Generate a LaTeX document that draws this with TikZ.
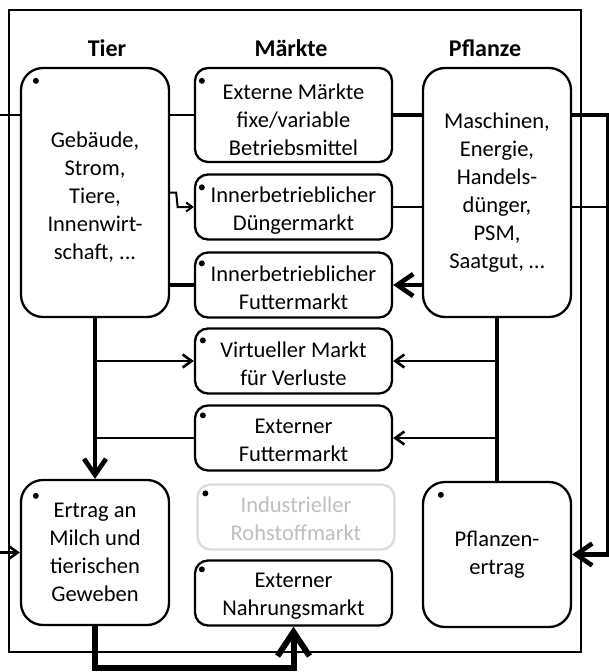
\documentclass[tikz,border=0pt]{standalone}
\usepackage{fontspec}
\setmainfont{Carlito}
\usetikzlibrary{arrows.meta}
\newcommand{\boxfont}{\fontsize{22.5}{28}\selectfont}
\newcommand{\hdrfont}{\fontsize{24}{28}\selectfont\bfseries}
\newcommand{\tup}[1]{\rule{0pt}{#1pt}}
\begin{document}
\begin{tikzpicture}[x=1pt,y=-1pt,
  box/.style={draw, line width=2.3pt, fill=white, rounded corners=13pt, align=center, font=\boxfont, inner sep=0pt},
  mbox/.style={box, minimum width=197pt, minimum height=65pt},
  bigbox/.style={box, rounded corners=22pt, minimum width=148pt},
  framebox/.style={draw, line width=2pt, inner sep=0pt},
  dotm/.style={circle, fill=black, inner sep=0pt, minimum size=6pt},
  hdr/.style={font=\hdrfont, anchor=base, inner sep=0pt},
  lnthin/.style={line width=2pt},
  lnmed/.style={line width=2.6pt},
  lnthick/.style={line width=4.6pt},
  lnbold/.style={line width=6pt},
  bigtip/.style={-{Straight Barb[length=16pt,width=22pt]}},
  smalltip/.style={-{Straight Barb[length=9pt,width=13pt]}},
  tinytip/.style={-{Straight Barb[length=6pt,width=9pt]}},
  hugetip/.style={-{Straight Barb[length=24pt,width=32pt]}},
]
\useasboundingbox (0,0) rectangle (608,672);
\node[framebox, minimum width=572pt, minimum height=642pt] (frame) at (295,331) {};

\node[hdr] (h1) at (107,56) {Tier};
\node[hdr] (h2) at (291,56) {Märkte};
\node[hdr] (h3) at (485,56) {Pflanze};

\node[bigbox, minimum height=249pt] (tier) at (95,192.5) {\tup{25}Gebäude,\\Strom,\\Tiere,\\Innenwirt-\\schaft, ...};
\node[bigbox, minimum height=249pt] (pfl) at (497,192.5) {Maschinen,\\Energie,\\Handels-\\dünger,\\PSM,\\Saatgut, …};
\node[mbox, minimum height=94pt] (ext) at (293.5,115) {\tup{26}Externe Märkte\\fixe/variable\\Betriebsmittel};
\node[mbox] (dung) at (293.5,207) {\tup{23}Innerbetrieblicher\\Düngermarkt};
\node[mbox] (futt) at (293.5,285) {\tup{22}Innerbetrieblicher\\Futtermarkt};
\node[mbox] (virt) at (293.5,361) {\tup{21}Virtueller Markt\\für Verluste};
\node[mbox] (exf) at (293.5,438) {\tup{20}Externer\\Futtermarkt};
\node[mbox, draw=gray!28, text=gray!50] (ind) at (296,517) {\tup{19}Industrieller\\Rohstoffmarkt};
\node[mbox] (nahr) at (293.5,593) {\tup{21}Externer\\Nahrungsmarkt};
\node[bigbox, minimum height=145pt] (ert) at (95,552.5) {Ertrag an\\Milch und\\tierischen\\Geweben};
\node[bigbox, minimum height=145pt] (pert) at (497,554.5) {Pflanzen-\\ertrag};

\node[dotm] (b1) at ([xshift=16pt,yshift=-14pt]tier.north west) {};
\node[dotm] (b2) at ([xshift=8pt,yshift=-14pt]ext.north west) {};
\node[dotm] (b3) at ([xshift=8pt,yshift=-14pt]dung.north west) {};
\node[dotm] (b4) at ([xshift=8pt,yshift=-12pt]futt.north west) {};
\node[dotm] (b5) at ([xshift=9pt,yshift=-13pt]virt.north west) {};
\node[dotm] (b6) at ([xshift=9pt,yshift=-11pt]exf.north west) {};
\node[dotm] (b7) at ([xshift=9pt,yshift=-10pt]ind.north west) {};
\node[dotm] (b8) at ([xshift=8pt,yshift=-10pt]nahr.north west) {};
\node[dotm] (b9) at ([xshift=16pt,yshift=-17pt]ert.north west) {};
\node[dotm] (b10) at ([xshift=19pt,yshift=-14pt]pert.north west) {};

\coordinate (lft) at (-3,330);
\coordinate (rgt) at (608.5,330);

\draw[lnmed, smalltip] (tier.west |- ext.west) -| (lft) |- (ert.west);
\draw[lnmed] (tier.east |- ext.west) -- (ext.west);
\draw[lnthick] (ext.east) -- (pfl.west |- ext.east);
\draw[lnthick, bigtip] (pfl.east |- ext.east) -| (rgt) |- (pert.east);

\draw[lnthin, tinytip] (tier.east) -- ++(6,0) -- ([xshift=7.5pt]tier.east |- dung.west) -- (dung.west);
\draw[lnthin] (dung.east) -- (pfl.west |- dung.east);
\draw[lnthin] (pfl.east |- dung.east) -- (rgt |- dung.east);

\draw[lnthick] (tier.east |- futt.west) -- (futt.west);
\draw[lnthick, bigtip] (pfl.west |- futt.east) -- (futt.east);

\draw[lnthick, bigtip] (tier.south) -- (ert.north);
\draw[lnmed, smalltip] (tier.south |- virt.west) -- (virt.west);
\draw[lnmed] (tier.south |- exf.west) -- (exf.west);

\draw[lnthick] (pfl.south) -- (pert.north);
\draw[lnmed, smalltip] (pfl.south |- virt.east) -- (virt.east);
\draw[lnmed, smalltip] (pfl.south |- exf.east) -- (exf.east);

\draw[lnbold, hugetip] (ert.south) |- ([yshift=-41pt]nahr.south) -- (nahr.south);
\end{tikzpicture}
\end{document}
